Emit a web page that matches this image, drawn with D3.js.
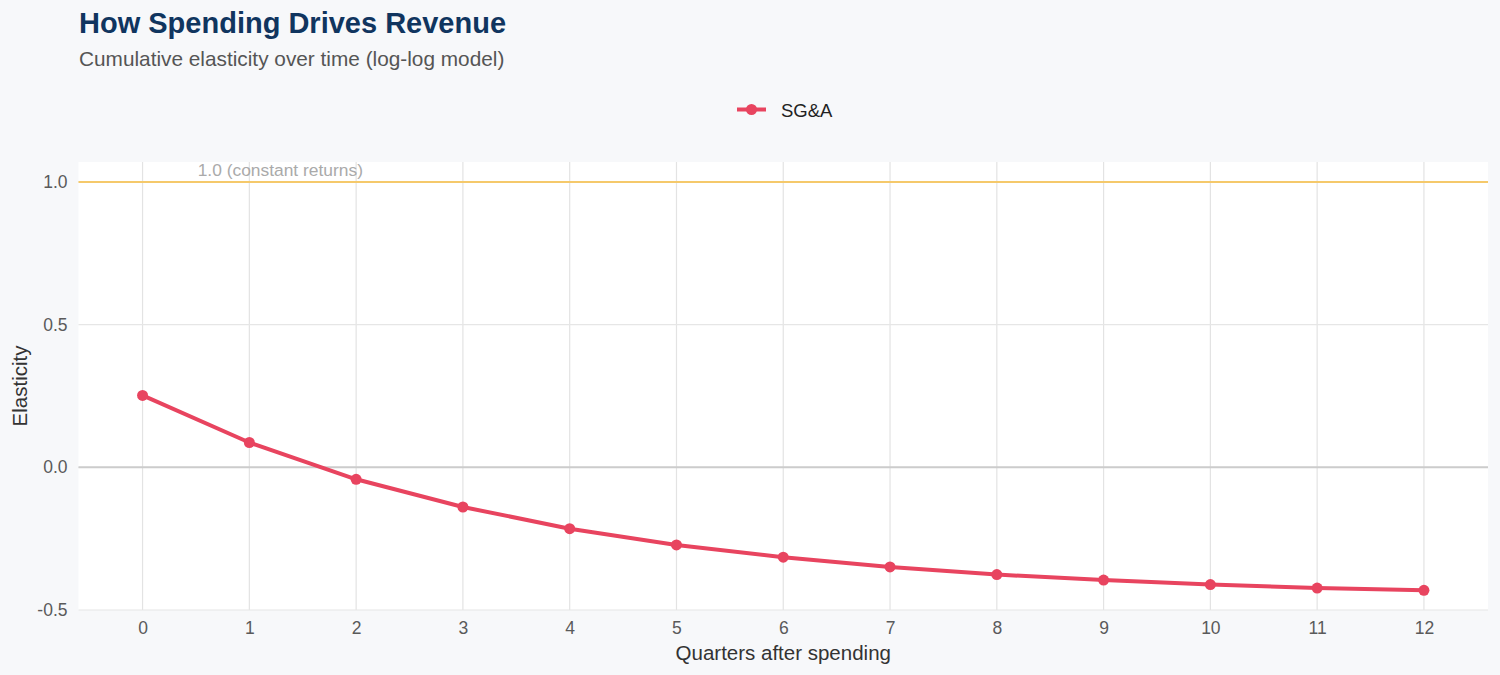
<!DOCTYPE html>
<html>
<head>
<meta charset="utf-8">
<script src="https://cdn.jsdelivr.net/npm/d3@7"></script>
<style>
  body { margin: 0; background: #f7f8fa; font-family: "Liberation Sans", Arial, sans-serif; }
  svg { display: block; }
</style>
</head>
<body>
<svg id="chart" width="1500" height="675"></svg>
<script>
var quarters = [0, 1, 2, 3, 4, 5, 6, 7, 8, 9, 10, 11, 12];
var elasticity = [0.252, 0.087, -0.042, -0.139, -0.215, -0.272, -0.315, -0.349, -0.376, -0.395, -0.411, -0.423, -0.431];
var yTicks = [-0.5, 0, 0.5, 1.0];
var seriesName = "SG&A";
var lineColor = "#e8445f";

var svg = d3.select("#chart");
var margin = { left: 78.5, right: 12, top: 162, bottom: 65 };
var W = 1500, H = 675;

var x = d3.scaleLinear().domain([-0.6, 12.6]).range([margin.left, W - margin.right]);
var y = d3.scaleLinear().domain([-0.5, 1.07]).range([610, margin.top]);

// panel
svg.append("rect")
   .attr("x", x.range()[0]).attr("y", y.range()[1])
   .attr("width", x.range()[1] - x.range()[0])
   .attr("height", y.range()[0] - y.range()[1])
   .attr("fill", "#fff");

// grid
svg.append("g").selectAll("line").data(quarters).enter().append("line")
   .attr("x1", function(d) { return x(d); }).attr("x2", function(d) { return x(d); })
   .attr("y1", y.range()[1]).attr("y2", y.range()[0])
   .attr("stroke", "#e3e3e3").attr("stroke-width", 1.2);

svg.append("g").selectAll("line").data(yTicks).enter().append("line")
   .attr("x1", x.range()[0]).attr("x2", x.range()[1])
   .attr("y1", function(d) { return y(d); }).attr("y2", function(d) { return y(d); })
   .attr("stroke", "#e6e6e6").attr("stroke-width", 1.2);

// reference lines
svg.append("line")
   .attr("x1", x.range()[0]).attr("x2", x.range()[1])
   .attr("y1", y(0)).attr("y2", y(0))
   .attr("stroke", "#cccccc").attr("stroke-width", 2);

svg.append("line")
   .attr("x1", x.range()[0]).attr("x2", x.range()[1])
   .attr("y1", y(1)).attr("y2", y(1))
   .attr("stroke", "#f5c96b").attr("stroke-width", 2);

svg.append("text")
   .attr("x", x(1.29)).attr("y", y(1) - 6)
   .attr("text-anchor", "middle")
   .attr("fill", "#aaaaaa").style("font-size", "17.4px")
   .text("1.0 (constant returns)");

// axes (text only)
var xAxis = d3.axisBottom(x).tickValues(quarters).tickSize(0).tickPadding(12).tickFormat(d3.format("d"));
var gx = svg.append("g").attr("transform", "translate(0," + y.range()[0] + ")").call(xAxis);
var yAxis = d3.axisLeft(y).tickValues(yTicks).tickSize(0).tickPadding(11).tickFormat(d3.format(".1f"));
var gy = svg.append("g").attr("transform", "translate(" + x.range()[0] + ",0)").call(yAxis);
[gx, gy].forEach(function(g) {
   g.select(".domain").remove();
   g.selectAll("text").attr("fill", "#5a5a5a").style("font-size", "17.5px").style("font-family", "Liberation Sans, Arial, sans-serif");
});
gy.selectAll("text").text(function(d) { return d < 0 ? "-" + d3.format(".1f")(-d) : d3.format(".1f")(d); });

// series
var pts = quarters.map(function(q, i) { return [q, elasticity[i]]; });
var line = d3.line().x(function(d) { return x(d[0]); }).y(function(d) { return y(d[1]); });

svg.append("path")
   .datum(pts)
   .attr("d", line)
   .attr("fill", "none")
   .attr("stroke", lineColor)
   .attr("stroke-width", 4)
   .attr("stroke-linejoin", "round");

svg.append("g").selectAll("circle").data(pts).enter().append("circle")
   .attr("cx", function(d) { return x(d[0]); })
   .attr("cy", function(d) { return y(d[1]); })
   .attr("r", 5.5)
   .attr("fill", lineColor);

// titles
svg.append("text").attr("x", 79).attr("y", 33)
   .attr("fill", "#10355f").style("font-size", "29px").style("font-weight", "bold")
   .text("How Spending Drives Revenue");
svg.append("text").attr("x", 79).attr("y", 66)
   .attr("fill", "#555").style("font-size", "20.8px")
   .text("Cumulative elasticity over time (log-log model)");

// axis titles
svg.append("text").attr("x", (x.range()[0] + x.range()[1]) / 2).attr("y", 660)
   .attr("text-anchor", "middle").attr("fill", "#333").style("font-size", "20.5px")
   .text("Quarters after spending");
svg.append("text")
   .attr("transform", "translate(27," + ((y.range()[0] + y.range()[1]) / 2) + ") rotate(-90)")
   .attr("text-anchor", "middle").attr("fill", "#333").style("font-size", "20.5px")
   .text("Elasticity");

// legend
var lg = svg.append("g").attr("transform", "translate(737,109.5)");
lg.append("line").attr("x1", 0).attr("x2", 29).attr("y1", 0).attr("y2", 0)
   .attr("stroke", lineColor).attr("stroke-width", 4);
lg.append("circle").attr("cx", 14.5).attr("cy", 0).attr("r", 5.5).attr("fill", lineColor);
lg.append("text").attr("x", 44).attr("y", 7)
   .attr("fill", "#222").style("font-size", "18.5px")
   .text(seriesName);
</script>
</body>
</html>
